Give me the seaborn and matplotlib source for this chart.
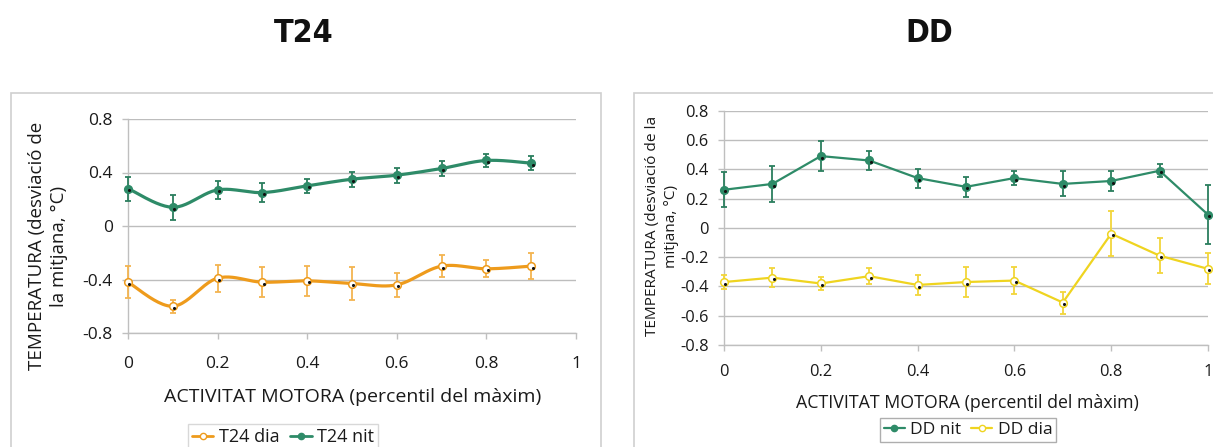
import numpy as np
import matplotlib
matplotlib.use("Agg")
import matplotlib.pyplot as plt
import matplotlib.transforms as mtransforms
from matplotlib.lines import Line2D
from matplotlib.patches import Rectangle
import seaborn as sns

# ---- data -------------------------------------------------------------
t24_x = [0.0, 0.1, 0.2, 0.3, 0.4, 0.5, 0.6, 0.7, 0.8, 0.9]
t24_nit = [0.28, 0.14, 0.27, 0.25, 0.30, 0.35, 0.38, 0.43, 0.49, 0.47]
t24_nit_err = [0.09, 0.095, 0.065, 0.07, 0.055, 0.055, 0.055, 0.055, 0.05, 0.055]
t24_dia = [-0.42, -0.60, -0.39, -0.42, -0.41, -0.43, -0.44, -0.30, -0.32, -0.30]
t24_dia_err = [0.12, 0.05, 0.10, 0.11, 0.11, 0.125, 0.09, 0.08, 0.065, 0.095]

dd_x = [0.0, 0.1, 0.2, 0.3, 0.4, 0.5, 0.6, 0.7, 0.8, 0.9, 1.0]
dd_nit = [0.26, 0.30, 0.49, 0.46, 0.34, 0.28, 0.34, 0.30, 0.32, 0.39, 0.09]
dd_nit_err = [0.12, 0.125, 0.10, 0.065, 0.065, 0.07, 0.05, 0.085, 0.07, 0.045, 0.20]
dd_dia = [-0.37, -0.34, -0.38, -0.33, -0.39, -0.37, -0.36, -0.51, -0.04, -0.19, -0.28]
dd_dia_err = [0.045, 0.065, 0.045, 0.055, 0.07, 0.10, 0.09, 0.075, 0.155, 0.12, 0.105]

x_ticks = [0, 0.2, 0.4, 0.6, 0.8, 1]
x_ticklabels = ["0", "0.2", "0.4", "0.6", "0.8", "1"]
t24_yticks = [-0.8, -0.4, 0, 0.4, 0.8]
t24_yticklabels = ["-0.8", "-0.4", "0", "0.4", "0.8"]
dd_yticks = [-0.8, -0.6, -0.4, -0.2, 0, 0.2, 0.4, 0.6, 0.8]
dd_yticklabels = ["-0.8", "-0.6", "-0.4", "-0.2", "0", "0.2", "0.4", "0.6", "0.8"]

xlabel = "ACTIVITAT MOTORA (percentil del màxim)"
t24_ylabel = "TEMPERATURA (desviació de\nla mitjana, °C)"
dd_ylabel = "TEMPERATURA (desviació de la\nmitjana, °C)"

# ---- style ------------------------------------------------------------
sns.set_theme(style="white")
plt.rcParams["font.family"] = ["Open Sans", "DejaVu Sans"]

GREEN = "#2E8B68"
GREEN_ERR = "#2B7E5E"
ORANGE = "#EE9B1C"
ORANGE_ERR = "#F3B451"
YELLOW = "#EFD420"
YELLOW_ERR = "#F2D63A"
GRID = "#BDBDBD"
FRAME = "#CFCFCF"
TEXT = "#1a1a1a"

W, H = 1213, 447
fig = plt.figure(figsize=(W / 100, H / 100), dpi=100)
fig.patch.set_facecolor("white")


def fx(px):
    return px / W


def fy(py):
    return 1 - py / H


def smooth_curve(x, y, n=24):
    """Catmull-Rom curve through the points (smoothed line style)."""
    pts = np.column_stack([x, y]).astype(float)
    p = np.vstack([pts[0], pts, pts[-1]])
    segs = []
    t = np.linspace(0, 1, n, endpoint=False)[:, None]
    for i in range(1, len(p) - 2):
        p0, p1, p2, p3 = p[i - 1], p[i], p[i + 1], p[i + 2]
        seg = 0.5 * (2 * p1 + (-p0 + p2) * t
                     + (2 * p0 - 5 * p1 + 4 * p2 - p3) * t ** 2
                     + (-p0 + 3 * p1 - 3 * p2 + p3) * t ** 3)
        segs.append(seg)
    segs.append(pts[-1][None])
    return np.vstack(segs)


def style_axes(ax, yticks, yticklabels, fs, xpad):
    ax.set_xlim(0, 1)
    ax.set_ylim(-0.8, 0.8)
    ax.set_xticks(x_ticks)
    ax.set_xticklabels(x_ticklabels)
    ax.set_yticks(yticks)
    ax.set_yticklabels(yticklabels)
    ax.yaxis.grid(True, color=GRID, linewidth=1.0)
    ax.xaxis.grid(False)
    for side in ("top", "right"):
        ax.spines[side].set_visible(False)
    for side in ("left", "bottom"):
        ax.spines[side].set_color("#BFBFBF")
        ax.spines[side].set_linewidth(1.0)
    ax.tick_params(axis="both", which="both", direction="out", length=4,
                   width=1, color="#BFBFBF", labelsize=fs, labelcolor=TEXT,
                   left=True, bottom=True)
    ax.tick_params(axis="x", pad=xpad)
    ax.tick_params(axis="y", pad=7)
    ax.set_xlabel("")
    ax.set_ylabel("")


def draw_series(ax, x, y, err, color, ecolor, open_marker, smooth, lw):
    ax.errorbar(x, y, yerr=err, fmt="none", ecolor=ecolor, elinewidth=1.3,
                capsize=2.5, capthick=1.3, zorder=3, clip_on=False)
    if smooth:
        c = smooth_curve(x, y)
        ax.plot(c[:, 0], c[:, 1], color=color, lw=lw, zorder=4,
                solid_capstyle="round", clip_on=False)
    else:
        sns.lineplot(x=x, y=y, ax=ax, color=color, lw=lw, zorder=4,
                     estimator=None, sort=False, legend=False)
    face = "white" if open_marker else color
    sns.scatterplot(x=x, y=y, ax=ax, s=30, color=face, edgecolor=color,
                    linewidth=1.1, zorder=5, legend=False, clip_on=False)
    shadow = mtransforms.offset_copy(ax.transData, fig=fig, x=1.3, y=-1.6,
                                     units="dots")
    ax.scatter(x, y, s=5, color="#111111", linewidths=0, zorder=6,
               transform=shadow, clip_on=False)


# ---- panel frames -----------------------------------------------------
fig.add_artist(Rectangle((fx(11), fy(460)), fx(590), fy(93) - fy(460),
                         transform=fig.transFigure, fill=False,
                         edgecolor=FRAME, linewidth=1.2))
fig.add_artist(Rectangle((fx(634), fy(460)), fx(620), fy(93) - fy(460),
                         transform=fig.transFigure, fill=False,
                         edgecolor=FRAME, linewidth=1.2))

# ---- titles -----------------------------------------------------------
title_kw = dict(ha="center", va="center", fontsize=23, fontweight="bold",
                fontstretch="condensed", family=["DejaVu Sans"], color="#111111")
fig.text(fx(304), fy(33), "T24", **title_kw)
fig.text(fx(929), fy(33), "DD", **title_kw)

# ---- T24 panel --------------------------------------------------------
ax1 = fig.add_axes([fx(128), fy(333), fx(448), fy(119) - fy(333)])
style_axes(ax1, t24_yticks, t24_yticklabels, 12.5, 12.5)
draw_series(ax1, t24_x, t24_dia, t24_dia_err, ORANGE, ORANGE_ERR, True, True, 2.3)
draw_series(ax1, t24_x, t24_nit, t24_nit_err, GREEN, GREEN_ERR, False, True, 2.3)
fig.text(fx(48), fy(246), t24_ylabel, rotation=90, ha="center", va="center",
         fontsize=13.5, color=TEXT, multialignment="center", linespacing=1.3)
fig.text(fx(353), fy(397), xlabel, ha="center", va="center", fontsize=14,
         color=TEXT)

h_dia = Line2D([], [], color=ORANGE, lw=2, marker="o", markersize=4.5,
               markerfacecolor="white", markeredgecolor=ORANGE)
h_nit = Line2D([], [], color=GREEN, lw=2, marker="o", markersize=4.5,
               markerfacecolor=GREEN, markeredgecolor=GREEN)
leg1 = fig.legend([h_dia, h_nit], ["T24 dia", "T24 nit"], loc="center",
                  bbox_to_anchor=(fx(283), fy(437)), ncol=2, fontsize=13,
                  frameon=True, fancybox=False, edgecolor=FRAME,
                  handlelength=1.2, handletextpad=0.3, columnspacing=0.6,
                  borderpad=0.2, borderaxespad=0)
leg1.get_frame().set_linewidth(1.0)
for t in leg1.get_texts():
    t.set_color(TEXT)

# ---- DD panel ---------------------------------------------------------
ax2 = fig.add_axes([fx(724), fy(345), fx(484), fy(110.7) - fy(345)])
style_axes(ax2, dd_yticks, dd_yticklabels, 11.8, 10)
draw_series(ax2, dd_x, dd_dia, dd_dia_err, YELLOW, YELLOW_ERR, True, False, 1.6)
draw_series(ax2, dd_x, dd_nit, dd_nit_err, GREEN, GREEN_ERR, False, False, 1.6)
fig.text(fx(662), fy(226), dd_ylabel, rotation=90, ha="center", va="center",
         fontsize=11.1, color=TEXT, multialignment="center", linespacing=1.45)
fig.text(fx(967), fy(403), xlabel, ha="center", va="center", fontsize=12.8,
         color=TEXT)

h_dd_nit = Line2D([], [], color=GREEN, lw=1.6, marker="o", markersize=4.5,
                  markerfacecolor=GREEN, markeredgecolor=GREEN)
h_dd_dia = Line2D([], [], color=YELLOW, lw=1.6, marker="o", markersize=4.5,
                  markerfacecolor="white", markeredgecolor=YELLOW)
leg2 = fig.legend([h_dd_nit, h_dd_dia], ["DD nit", "DD dia"], loc="center",
                  bbox_to_anchor=(fx(968), fy(430)), ncol=2, fontsize=12.5,
                  frameon=True, fancybox=False, edgecolor="#9A9A9A",
                  handlelength=1.2, handletextpad=0.3, columnspacing=0.6,
                  borderpad=0.25, borderaxespad=0)
leg2.get_frame().set_linewidth(1.0)
for t in leg2.get_texts():
    t.set_color(TEXT)

fig.savefig("out.png", dpi=100, facecolor="white")
